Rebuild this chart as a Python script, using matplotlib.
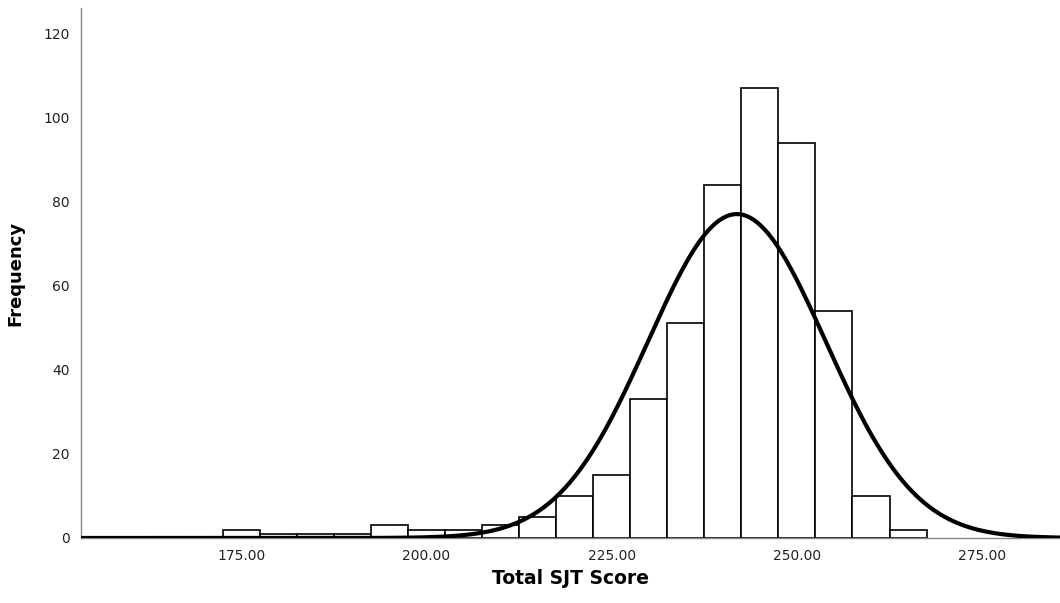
import numpy as np
import matplotlib
matplotlib.use('Agg')
import matplotlib.pyplot as plt

# bin centres (width 5) and frequencies
bin_centers = [175, 180, 185, 190, 195, 200, 205, 210, 215, 220,
               225, 230, 235, 240, 245, 250, 255, 260, 265]
counts = [2, 1, 1, 1, 3, 2, 2, 3, 5, 10,
          15, 33, 51, 84, 107, 94, 54, 10, 2]
bin_width = 5

# normal curve
mean_score = 241.9
sd_score = 12.0
curve_peak = 77

xticks = [175, 200, 225, 250, 275]
yticks = [0, 20, 40, 60, 80, 100, 120]

fig = plt.figure(figsize=(10.6, 6.03), dpi=100)
ax = fig.add_axes([0.0764, 0.1078, 0.9236, 0.879])

ax.bar(bin_centers, counts, width=bin_width, color='white',
       edgecolor='black', linewidth=1.2, zorder=2)

xs = np.linspace(150, 290, 600)
ys = curve_peak * np.exp(-0.5 * ((xs - mean_score) / sd_score) ** 2)
ax.plot(xs, ys, color='black', linewidth=3, zorder=3)

ax.set_xlim(153.4, 285.5)
ax.set_ylim(0, 126)
ax.set_xticks(xticks)
ax.set_xticklabels([f'{t:.2f}' for t in xticks])
ax.set_yticks(yticks)
ax.tick_params(length=0, labelsize=10, colors='#222222', pad=8)
ax.tick_params(axis='x', pad=8)

for s in ['top', 'right']:
    ax.spines[s].set_visible(False)
for s in ['left', 'bottom']:
    ax.spines[s].set_color('#888888')
    ax.spines[s].set_linewidth(1)

ax.set_xlabel('Total SJT Score', fontsize=13.5, fontweight='bold', labelpad=4)
ax.set_ylabel('Frequency', fontsize=13, fontweight='bold', labelpad=14)

fig.savefig('out.png', dpi=100)
